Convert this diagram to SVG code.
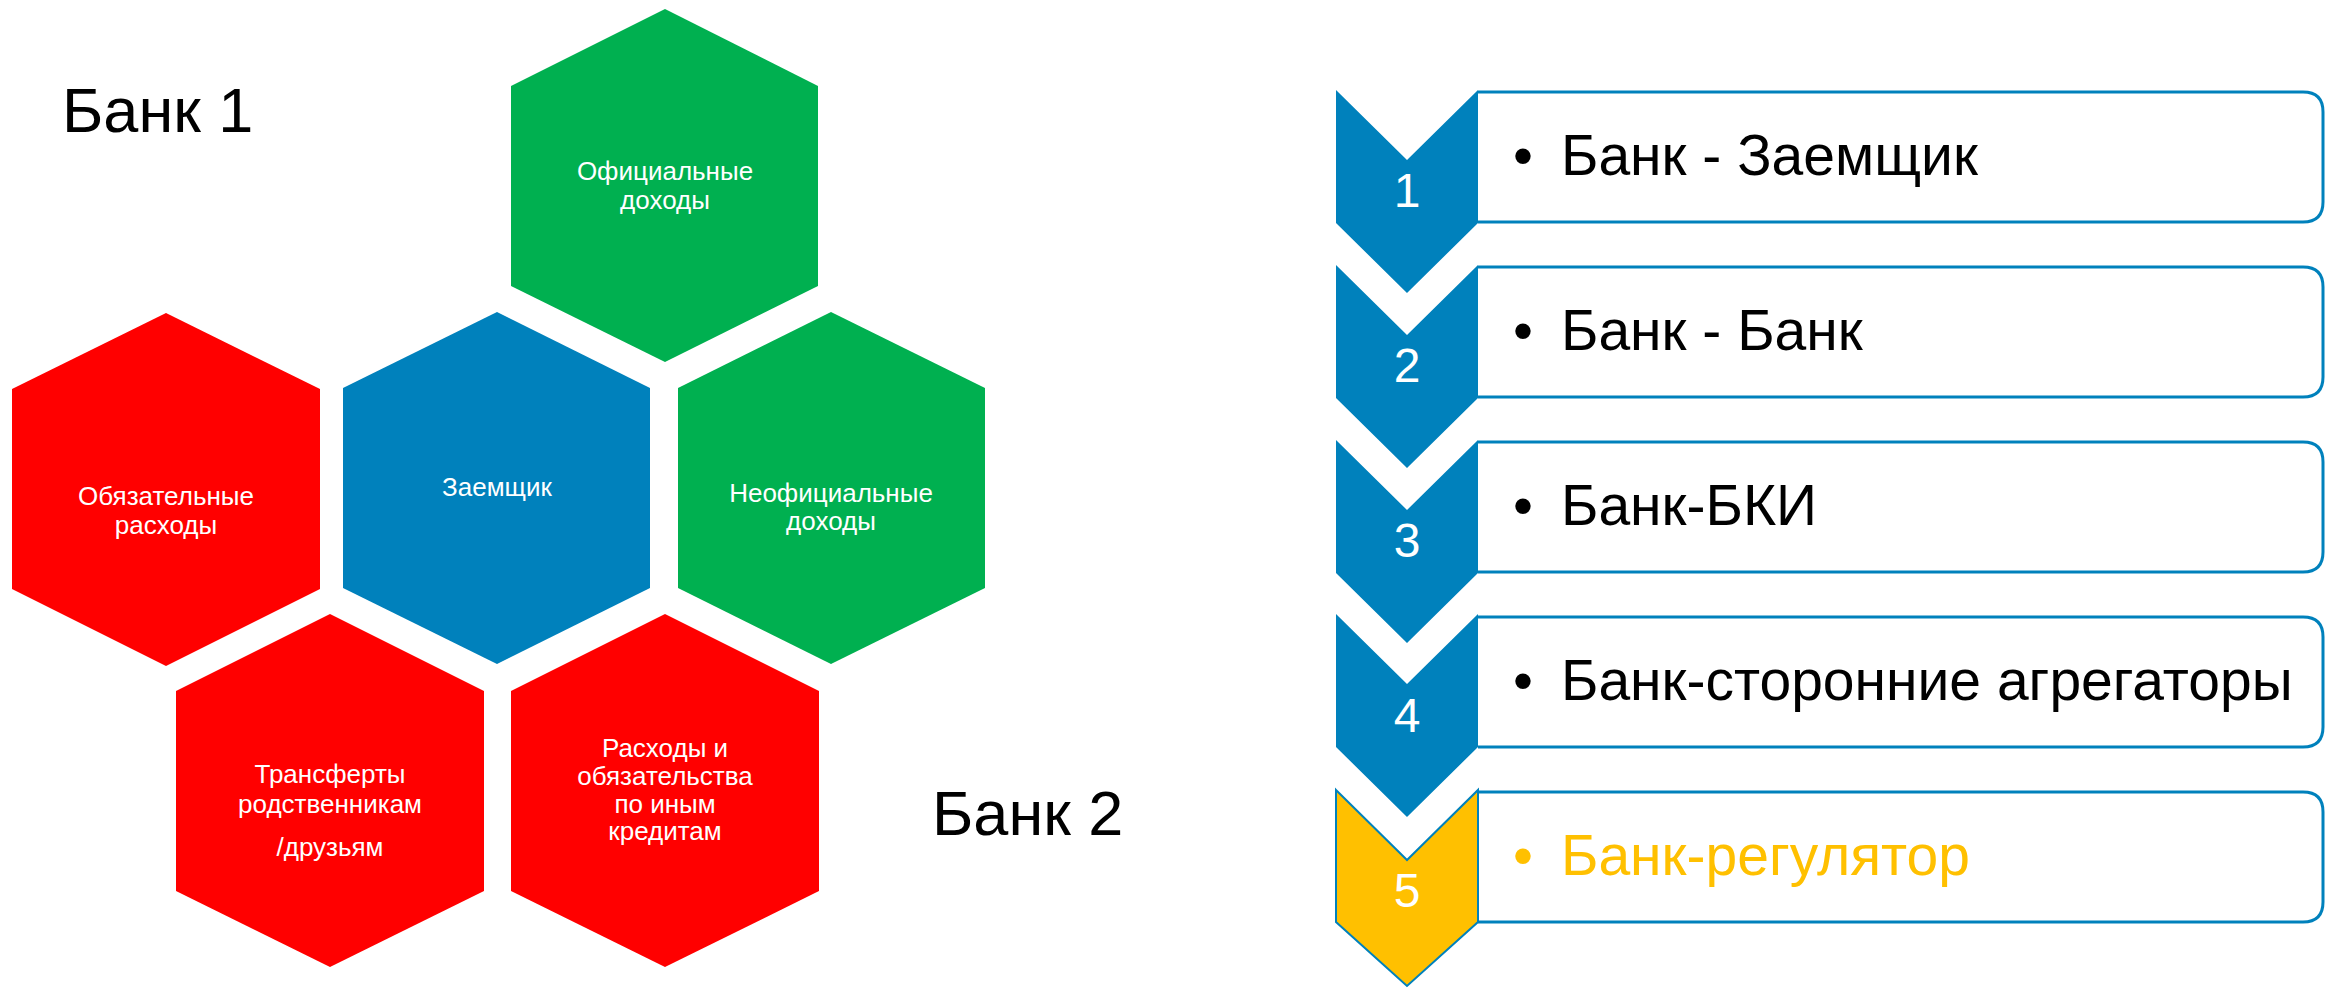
<svg xmlns="http://www.w3.org/2000/svg" width="2334" height="989" viewBox="0 0 2334 989">
<style>
.hx text{font-family:"Liberation Sans",Arial,sans-serif;font-size:26px;fill:#fff;text-anchor:middle}
.big{font-family:"Liberation Sans",Arial,sans-serif;font-size:63px;fill:#000}
.box{fill:#fff;stroke:#0081BC;stroke-width:3}
.chev{fill:#0081BC}
.num{font-family:"Liberation Sans",Arial,sans-serif;font-size:48px;fill:#fff;text-anchor:middle}
.item{font-family:"Liberation Sans",Arial,sans-serif;font-size:57px;fill:#000}
.red{fill:#FF0000}.green{fill:#00B050}.blue{fill:#0081BC}
</style>
<rect width="2334" height="989" fill="#fff"/>
<text class="big" x="62" y="132">Банк 1</text>
<text class="big" x="932" y="835">Банк 2</text>

<g id="hex-official" class="hx">
<polygon class="green" points="665,9 818,86 818,286 665,362 511,286 511,86"/>
<text x="665" y="180">Официальные</text><text x="665" y="209">доходы</text>
</g>
<g id="hex-mandatory" class="hx">
<polygon class="red" points="166,313 320,389 320,589 166,666 12,589 12,389"/>
<text x="166" y="505">Обязательные</text><text x="166" y="534">расходы</text>
</g>
<g id="hex-borrower" class="hx">
<polygon class="blue" points="497,312 650,388 650,588 497,664 343,588 343,388"/>
<text x="497" y="496">Заемщик</text>
</g>
<g id="hex-unofficial" class="hx">
<polygon class="green" points="831,312 985,388 985,588 831,664 678,588 678,388"/>
<text x="831" y="502">Неофициальные</text><text x="831" y="530">доходы</text>
</g>
<g id="hex-transfers" class="hx">
<polygon class="red" points="330,614 484,691 484,891 330,967 176,891 176,691"/>
<text x="330" y="783">Трансферты</text><text x="330" y="813">родственникам</text><text x="330" y="856">/друзьям</text>
</g>
<g id="hex-credits" class="hx">
<polygon class="red" points="665,614 819,691 819,891 665,967 511,891 511,691"/>
<text x="665" y="757">Расходы и</text><text x="665" y="785">обязательства</text><text x="665" y="813">по иным</text><text x="665" y="840">кредитам</text>
</g>

<g id="step1">
<path class="box" d="M1478,92 H2303 Q2323,92 2323,112 V202 Q2323,222 2303,222 H1478"/>
<polygon class="chev" points="1336,90 1407,160 1478,90 1478,223 1407,293 1336,223"/>
<text class="num" x="1407" y="207">1</text>
<text class="item" x="1513" y="175">•</text><text class="item" x="1561" y="175">Банк - Заемщик</text>
</g>
<g id="step2">
<path class="box" d="M1478,267 H2303 Q2323,267 2323,287 V377 Q2323,397 2303,397 H1478"/>
<polygon class="chev" points="1336,265 1407,335 1478,265 1478,398 1407,468 1336,398"/>
<text class="num" x="1407" y="382">2</text>
<text class="item" x="1513" y="350">•</text><text class="item" x="1561" y="350">Банк - Банк</text>
</g>
<g id="step3">
<path class="box" d="M1478,442 H2303 Q2323,442 2323,462 V552 Q2323,572 2303,572 H1478"/>
<polygon class="chev" points="1336,440 1407,510 1478,440 1478,573 1407,643 1336,573"/>
<text class="num" x="1407" y="557">3</text>
<text class="item" x="1513" y="525">•</text><text class="item" x="1561" y="525">Банк-БКИ</text>
</g>
<g id="step4">
<path class="box" d="M1478,617 H2303 Q2323,617 2323,637 V727 Q2323,747 2303,747 H1478"/>
<polygon class="chev" points="1336,614 1407,684 1478,614 1478,747 1407,817 1336,747"/>
<text class="num" x="1407" y="732">4</text>
<text class="item" x="1513" y="700">•</text><text class="item" x="1561" y="700">Банк-сторонние агрегаторы</text>
</g>
<g id="step5">
<path class="box" d="M1478,792 H2303 Q2323,792 2323,812 V902 Q2323,922 2303,922 H1478"/>
<polygon points="1336,790 1407,860 1478,790 1478,922 1407,986 1336,922" fill="#FFC000" stroke="#0081BC" stroke-width="2"/>
<text class="num" x="1407" y="907">5</text>
<text class="item" x="1513" y="875" style="fill:#FFC000">•</text><text class="item" x="1561" y="875" style="fill:#FFC000">Банк-регулятор</text>
</g>
</svg>
